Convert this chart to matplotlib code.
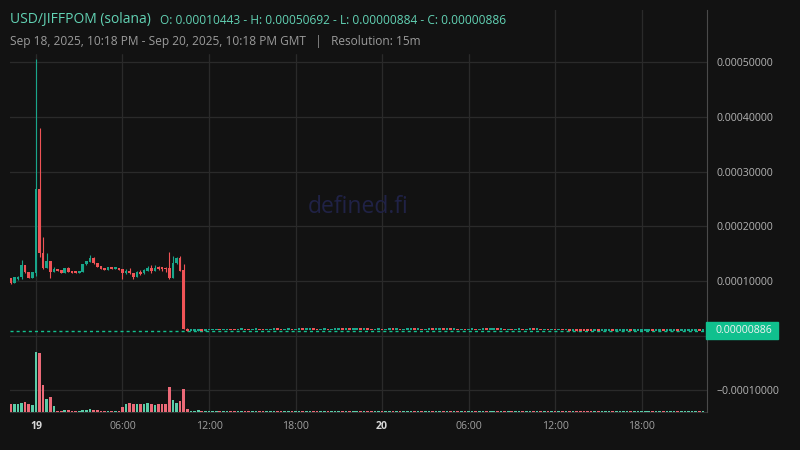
import numpy as np
import pandas as pd
import matplotlib
matplotlib.use('Agg')
import matplotlib.pyplot as plt
import matplotlib.dates as mdates
from matplotlib.patches import Rectangle

plt.rcParams['font.family'] = ['Open Sans', 'DejaVu Sans']

# 15m candles from Sep 18 22:15 GMT. first 50 candles in units of 1e-4
pre_open = [1.049, 0.969, 1.043, 1.067, 1.292, 1.164, 1.061, 1.152, 2.680, 1.506,
            1.238, 1.366, 1.170, 1.213, 1.201, 1.152, 1.232, 1.183, 1.170, 1.152,
            1.170, 1.305, 1.354, 1.414, 1.329, 1.268, 1.238, 1.207, 1.250, 1.225,
            1.238, 1.213, 1.152, 1.189, 1.152, 1.079, 1.164, 1.140, 1.189, 1.238,
            1.189, 1.238, 1.238, 1.238, 1.238, 1.055, 1.323, 1.414, 1.201, 0.131]
pre_high = [1.055, 1.079, 1.091, 1.384, 1.300, 1.170, 1.170, 5.069, 3.797, 1.800,
            1.506, 1.370, 1.256, 1.220, 1.205, 1.240, 1.250, 1.190, 1.172, 1.185,
            1.315, 1.370, 1.475, 1.438, 1.335, 1.270, 1.240, 1.255, 1.255, 1.240,
            1.240, 1.220, 1.213, 1.232, 1.155, 1.189, 1.207, 1.225, 1.280, 1.292,
            1.292, 1.274, 1.240, 1.262, 1.530, 1.457, 1.444, 1.457, 1.311, 0.135]
pre_low = [0.940, 0.960, 1.018, 1.030, 1.140, 1.060, 1.055, 1.091, 1.444, 1.220,
           1.230, 1.061, 1.165, 1.185, 1.150, 1.150, 1.165, 1.150, 1.145, 1.140,
           1.165, 1.300, 1.350, 1.320, 1.258, 1.220, 1.200, 1.200, 1.220, 1.220,
           1.200, 1.043, 1.128, 1.122, 1.036, 1.075, 1.118, 1.122, 1.185, 1.140,
           1.185, 1.201, 1.189, 1.170, 1.043, 1.050, 1.320, 1.180, 0.115, 0.089]
pre_close = [0.969, 1.067, 1.067, 1.292, 1.158, 1.061, 1.158, 2.680, 1.506, 1.238,
             1.366, 1.170, 1.219, 1.189, 1.152, 1.232, 1.170, 1.152, 1.152, 1.183,
             1.311, 1.366, 1.414, 1.323, 1.262, 1.225, 1.207, 1.250, 1.225, 1.238,
             1.207, 1.152, 1.189, 1.140, 1.079, 1.158, 1.122, 1.201, 1.238, 1.189,
             1.238, 1.219, 1.225, 1.213, 1.055, 1.329, 1.414, 1.189, 0.122, 0.092]

# after the dump, closes in units of 1e-5
post_close = [0.93, 0.95, 1.06, 0.94, 0.96, 0.98, 0.99, 1.01, 0.97, 1.00,
              1.02, 0.98, 0.97, 1.03, 1.05, 1.01, 0.99, 1.02, 1.04, 1.00,
              0.98, 1.01, 1.03, 1.06, 1.02, 1.00, 1.03, 1.05, 1.01, 1.03,
              1.05, 1.02, 1.04, 1.06, 1.03, 1.00, 1.02, 1.04, 1.01, 1.03,
              1.05, 1.07, 1.03, 1.05, 1.02, 1.04, 1.06, 1.03, 1.05, 1.02,
              0.99, 1.02, 1.04, 1.01, 1.03, 1.05, 1.02, 1.04, 1.00, 1.02,
              1.04, 1.06, 1.02, 1.04, 1.01, 1.03, 1.05, 1.02, 1.04, 1.06,
              1.03, 1.05, 1.02, 1.04, 1.01, 1.03, 1.00, 1.02, 1.04, 1.01,
              1.03, 1.05, 1.02, 1.04, 1.06, 1.03, 1.05, 1.01, 1.03, 1.00,
              1.02, 1.04, 1.01, 1.03, 1.05, 1.02, 1.04, 1.01, 1.03, 1.00,
              1.02, 0.99, 1.01, 0.97, 0.99, 0.95, 0.97, 0.93, 0.90, 0.89,
              0.887, 0.886, 0.888, 0.886, 0.886, 0.886, 0.887, 0.886, 0.886, 0.886,
              0.886, 0.887, 0.886, 0.886, 0.886, 0.886, 0.886, 0.887, 0.886, 0.886,
              0.886, 0.885, 0.886, 0.886, 0.887, 0.886, 0.886, 0.886, 0.886, 0.886,
              0.886, 0.884, 0.886]

# volume (USD)
volume = [3850, 3850, 3850, 4350, 5000, 3850, 3350, 29850, 29350, 13350,
          6350, 7350, 2850, 350, 500, 850, 850, 500, 500, 500,
          850, 1000, 1350, 850, 850, 500, 350, 350, 350, 350,
          350, 2350, 3850, 4350, 3850, 3850, 3850, 3850, 4350, 3850,
          3350, 3850, 3850, 3850, 12350, 5850, 4350, 5350, 11350, 1350,
          550, 500, 650, 550, 500, 550, 500, 450, 550, 500,
          550, 450, 550, 500, 550, 450, 550, 500, 450, 550,
          500, 450, 550, 500, 550, 450, 550, 500, 450, 550,
          550, 450, 550, 500, 550, 450, 550, 500, 450, 550,
          500, 450, 550, 500, 550, 450, 550, 500, 450, 550,
          550, 450, 550, 500, 550, 450, 550, 500, 450, 550,
          500, 450, 550, 500, 550, 450, 550, 500, 450, 550,
          550, 450, 550, 500, 550, 450, 550, 500, 450, 550,
          500, 450, 550, 500, 550, 450, 550, 500, 450, 550,
          550, 450, 550, 500, 550, 450, 550, 500, 450, 550,
          500, 500, 500, 500, 500, 500, 500, 500, 500, 500,
          500, 500, 500, 500, 500, 500, 500, 500, 500, 500,
          500, 500, 500, 500, 500, 500, 500, 500, 500, 500,
          500, 500, 500, 500, 500, 500, 500, 500, 500, 500,
          500, 500, 500]

last_price = 0.00000886

bg = '#121212'
up = '#19a68b'
down = '#ef5356'
up_vol = '#5acca8'
down_vol = '#ec6a78'
grid_c = '#2a2a2a'

c_pre = np.array(pre_close) * 1e-4
c_post = np.array(post_close) * 1e-5
closes = np.concatenate([c_pre, c_post])
o_post = np.concatenate([[c_pre[-1]], c_post[:-1]])
opens = np.concatenate([np.array(pre_open) * 1e-4, o_post])
highs = np.concatenate([np.array(pre_high) * 1e-4, np.maximum(o_post, c_post)])
lows = np.concatenate([np.array(pre_low) * 1e-4, np.minimum(o_post, c_post)])
vol = np.array(volume[:len(closes)])

times = pd.date_range('2025-09-18 22:15', periods=len(closes), freq='15min')
x = mdates.date2num(times)
rising = closes >= opens

fig = plt.figure(figsize=(8, 4.5), dpi=100, facecolor=bg)
ax = fig.add_axes([0.0125, 0.0851, 0.8709, 0.8927], facecolor=bg)

# volume overlay at the bottom
ax2 = ax.twinx()
ax2.bar(x, vol, width=11 / 1440, color=np.where(rising, up_vol, down_vol), linewidth=0,
        antialiased=False)
ax2.set_ylim(0, vol.max() * 6.73)
ax2.set_yticks([])
for s in ax2.spines.values():
    s.set_visible(False)

# candles
cols = np.where(rising, up, down)
ax.axhline(last_price, color='#13c08e', lw=1.0, ls=(0, (2.2, 2.2)), zorder=2.5)
ax.vlines(x, lows, highs, colors=cols, linewidth=0.8, zorder=3)
body_lo = np.minimum(opens, closes)
body_h = np.maximum(np.abs(closes - opens), 3.0e-6)
ax.bar(x, body_h, bottom=body_lo, width=11 / 1440, color=cols, linewidth=0, zorder=4,
       antialiased=False)

ax.set_xlim(mdates.date2num(pd.Timestamp('2025-09-18 22:12')),
            mdates.date2num(pd.Timestamp('2025-09-20 22:31')))
ax.set_ylim(-0.0001390, 0.0005957)

yt = [-0.0001, 0, 0.0001, 0.0002, 0.0003, 0.0004, 0.0005]
ax.set_yticks(yt)
ax.set_yticklabels(['' if v == 0 else f'{v:.8f}'.replace('-', '\u2212') for v in yt])
ax.yaxis.tick_right()
ax.tick_params(axis='y', length=0, pad=6.7, labelsize=7.6, labelcolor='#b4b4b4')

xt = pd.date_range('2025-09-19 00:00', periods=8, freq='6h')
ax.set_xticks(mdates.date2num(xt))
ax.set_xticklabels([t.strftime('%d').lstrip('0') if t.hour == 0 else t.strftime('%H:%M') for t in xt])
ax.tick_params(axis='x', length=0, pad=7, labelsize=7.6, labelcolor='#a0a0a0')
for lab, t in zip(ax.get_xticklabels(), xt):
    if t.hour == 0:
        lab.set_fontweight('bold')
        lab.set_color('#d8d8d8')

ax.grid(True, color=grid_c, lw=0.9)
ax.set_axisbelow(True)
for side in ['left', 'top']:
    ax.spines[side].set_visible(False)
ax.spines['right'].set_color('#4a4a4a')
ax.spines['bottom'].set_color('#333333')
ax.spines['right'].set_zorder(6)

ax.text(0.5, 0.51, 'defined.fi', transform=ax.transAxes, ha='center', va='center',
        fontsize=16.5, color='#202246', zorder=1)

# header box hides the grid behind the legend text
fig.patches.append(Rectangle((0, 1 - 53 / 450), 512 / 800, 53 / 450, transform=fig.transFigure,
                             color=bg, zorder=1))
fig.text(10 / 800, 1 - 20 / 450, 'USD/JIFFPOM (solana)', fontsize=10, color='#62d2b4', va='center')
fig.text(160 / 800, 1 - 20 / 450, 'O: 0.00010443 - H: 0.00050692 - L: 0.00000884 - C: 0.00000886',
         fontsize=8.6, color='#62d2b4', va='center')
fig.text(10 / 800, 1 - 41 / 450,
         'Sep 18, 2025, 10:18 PM - Sep 20, 2025, 10:18 PM GMT   |   Resolution: 15m',
         fontsize=8.6, color='#9b9b9b', va='center')

# last price tag on the price scale
fig.canvas.draw()
py = ax.transData.transform((0, last_price))[1] / fig.bbox.height
fig.patches.append(Rectangle((706 / 800, py - 8.4 / 450), 72 / 800, 16.8 / 450, transform=fig.transFigure,
                             color='#10c08e', zorder=2))
fig.text(716 / 800, py, f'{last_price:.8f}', fontsize=7.6, color='#f2f2f2', va='center', zorder=3)

fig.savefig('out.png', dpi=100, facecolor=bg)
